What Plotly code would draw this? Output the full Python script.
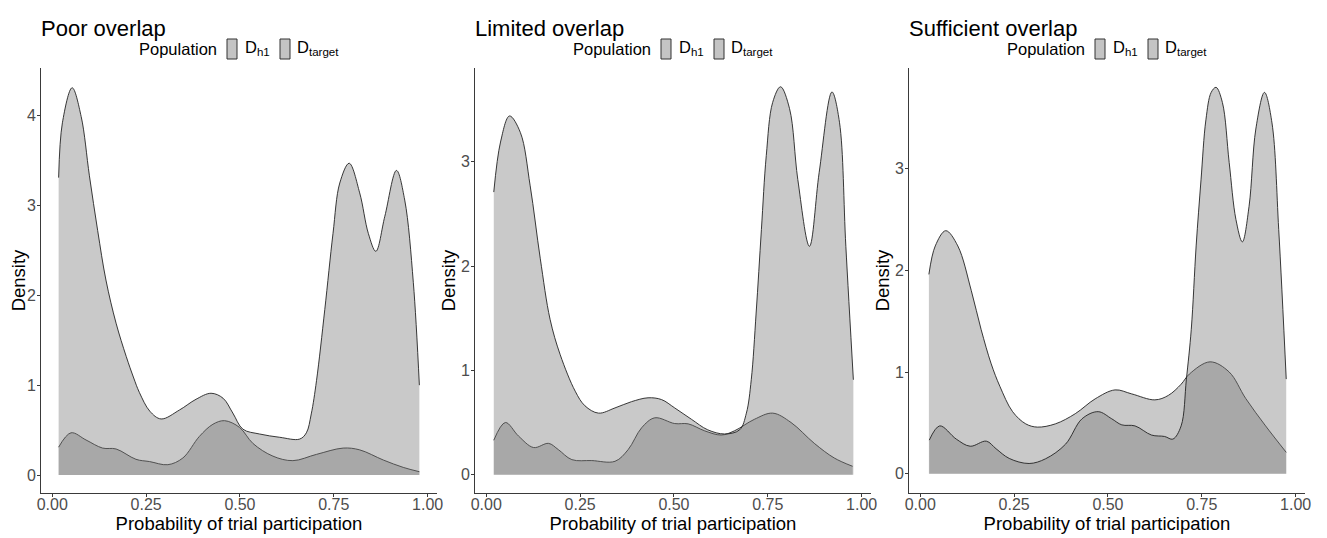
import plotly.graph_objects as go

# ---------------- data ----------------
panel_titles = ["Poor overlap", "Limited overlap", "Sufficient overlap"]
series_names = ["D<sub>h1</sub>", "D<sub>target</sub>"]

x_tick_vals = [0, 0.25, 0.5, 0.75, 1.0]
x_tick_labels = ["0.00", "0.25", "0.50", "0.75", "1.00"]
y_tick_vals = [[0, 1, 2, 3, 4], [0, 1, 2, 3], [0, 1, 2, 3]]

# Panel 1: Poor overlap
p1_h1_x = [0.017, 0.05, 0.09, 0.134, 0.17, 0.223, 0.259, 0.308, 0.348, 0.392, 0.428,
           0.459, 0.499, 0.535, 0.588, 0.641, 0.704, 0.775, 0.819, 0.882, 0.935, 0.978]
p1_h1_y = [0.31, 0.47, 0.39, 0.30, 0.29, 0.175, 0.15, 0.115, 0.19, 0.43, 0.565,
           0.605, 0.53, 0.35, 0.21, 0.16, 0.23, 0.30, 0.28, 0.167, 0.085, 0.037]
p1_tg_x = [0.017, 0.027, 0.053, 0.077, 0.099, 0.121, 0.143, 0.17, 0.197, 0.217, 0.232,
           0.26, 0.29, 0.339, 0.383, 0.423, 0.455, 0.481, 0.508, 0.552, 0.606, 0.659,
           0.677, 0.69, 0.704, 0.726, 0.748, 0.766, 0.791, 0.819, 0.842, 0.862, 0.886,
           0.917, 0.939, 0.962, 0.978]
p1_tg_y = [3.31, 3.92, 4.31, 3.99, 3.33, 2.72, 2.17, 1.69, 1.32, 1.08, 0.92,
           0.71, 0.624, 0.724, 0.843, 0.91, 0.855, 0.69, 0.51, 0.457, 0.42, 0.40,
           0.47, 0.68, 1.05, 1.84, 2.69, 3.25, 3.47, 3.14, 2.69, 2.49, 2.88,
           3.39, 3.06, 2.14, 1.00]

# Panel 2: Limited overlap
p2_h1_x = [0.02, 0.051, 0.086, 0.126, 0.166, 0.192, 0.228, 0.281, 0.343, 0.378, 0.414,
           0.449, 0.502, 0.538, 0.582, 0.626, 0.661, 0.714, 0.763, 0.812, 0.874, 0.927, 0.976]
p2_h1_y = [0.33, 0.50, 0.37, 0.26, 0.30, 0.24, 0.144, 0.135, 0.128, 0.24, 0.45,
           0.545, 0.49, 0.487, 0.42, 0.38, 0.42, 0.53, 0.59, 0.50, 0.30, 0.16, 0.08]
p2_tg_x = [0.02, 0.038, 0.062, 0.091, 0.117, 0.144, 0.17, 0.197, 0.237, 0.263,
           0.299, 0.343, 0.387, 0.431, 0.467, 0.502, 0.547, 0.59, 0.635, 0.675, 0.693,
           0.706, 0.719, 0.733, 0.746, 0.763, 0.784, 0.808, 0.83, 0.861, 0.887, 0.921,
           0.941, 0.958, 0.978]
p2_tg_y = [2.71, 3.19, 3.44, 3.28, 2.77, 2.07, 1.49, 1.15, 0.80, 0.66,
           0.59, 0.64, 0.70, 0.737, 0.72, 0.64, 0.53, 0.43, 0.39, 0.43, 0.59,
           0.91, 1.55, 2.35, 3.06, 3.57, 3.72, 3.51, 2.83, 2.19, 2.90, 3.67,
           3.38, 2.19, 0.91]

# Panel 3: Sufficient overlap
p3_h1_x = [0.023, 0.04, 0.068, 0.10, 0.136, 0.162, 0.189, 0.212, 0.246, 0.281, 0.312,
           0.36, 0.413, 0.466, 0.519, 0.563, 0.625, 0.661, 0.695, 0.717, 0.772, 0.823,
           0.867, 0.92, 0.975]
p3_h1_y = [1.96, 2.24, 2.39, 2.24, 1.80, 1.42, 1.08, 0.86, 0.61, 0.49, 0.458,
           0.49, 0.59, 0.736, 0.824, 0.785, 0.726, 0.77, 0.88, 0.98, 1.10, 1.00,
           0.74, 0.47, 0.21]
p3_tg_x = [0.024, 0.052, 0.096, 0.133, 0.176, 0.202, 0.237, 0.29, 0.334, 0.387, 0.431,
           0.474, 0.51, 0.537, 0.572, 0.616, 0.651, 0.673, 0.695, 0.709, 0.722, 0.735,
           0.748, 0.761, 0.775, 0.788, 0.805, 0.823, 0.841, 0.858, 0.876, 0.894, 0.917,
           0.937, 0.955, 0.975]
p3_tg_y = [0.33, 0.47, 0.34, 0.27, 0.32, 0.245, 0.15, 0.10, 0.147, 0.29, 0.54,
           0.61, 0.54, 0.48, 0.47, 0.38, 0.366, 0.34, 0.47, 0.93, 1.42, 2.24,
           2.89, 3.48, 3.75, 3.80, 3.65, 3.06, 2.50, 2.28, 2.63, 3.39, 3.75,
           3.45, 2.40, 0.93]

panels = [
    (p1_h1_x, p1_h1_y, p1_tg_x, p1_tg_y),
    (p2_h1_x, p2_h1_y, p2_tg_x, p2_tg_y),
    (p3_h1_x, p3_h1_y, p3_tg_x, p3_tg_y),
]
y_ranges = [[-0.2, 4.53], [-0.176, 3.9], [-0.19, 3.99]]
x_range = [-0.03, 1.025]

# ---------------- layout geometry ----------------
# The page body has an 8px margin, so the figure is drawn 8px in from the
# window's top-left corner; positions below are window pixels minus that.
OFF = 8
W, H = 1327 - OFF, 538 - OFF
panel_left = [41 - OFF, 475 - OFF, 909 - OFF]
panel_w = 396
plot_top, plot_bottom = 68 - OFF, 493 - OFF

FONT = "Liberation Sans, Arial, sans-serif"
FILL = "rgba(119,119,119,0.40)"
LINE = "#222222"

fig = go.Figure()
layout = dict(
    width=W, height=H, autosize=False,
    margin=dict(l=0, r=0, t=0, b=0),
    paper_bgcolor="white", plot_bgcolor="white",
    showlegend=False,
    font=dict(family=FONT, color="black"),
)

shapes = []
annotations = []

for i, (hx, hy, tx, ty) in enumerate(panels):
    ax = "" if i == 0 else str(i + 1)
    fig.add_trace(go.Scatter(
        x=hx, y=hy, mode="lines", name=series_names[0], fill="tozeroy",
        fillcolor=FILL, line=dict(color=LINE, width=0.9, shape="spline", smoothing=1.0),
        xaxis="x" + ax, yaxis="y" + ax, hoverinfo="x+y+name"))
    fig.add_trace(go.Scatter(
        x=tx, y=ty, mode="lines", name=series_names[1], fill="tozeroy",
        fillcolor=FILL, line=dict(color=LINE, width=0.9, shape="spline", smoothing=1.0),
        xaxis="x" + ax, yaxis="y" + ax, hoverinfo="x+y+name"))

    l = panel_left[i]
    xdom = [l / W, (l + panel_w) / W]
    ydom = [(H - plot_bottom) / H, (H - plot_top) / H]
    axis_common = dict(
        showline=True, linecolor="#3a3a3a", linewidth=1,
        ticks="outside", ticklen=3, tickwidth=1, tickcolor="#3a3a3a",
        tickfont=dict(size=16, color="#4d4d4d", family=FONT),
        showgrid=False, zeroline=False, automargin=False,
    )
    layout["xaxis" + ax] = dict(
        axis_common, domain=xdom, range=x_range, anchor="y" + ax,
        tickvals=x_tick_vals, ticktext=x_tick_labels, ticklabelstandoff=-6,
        title=dict(text="Probability of trial participation",
                   font=dict(size=18.5, family=FONT, color="black"), standoff=2),
    )
    layout["yaxis" + ax] = dict(
        axis_common, domain=ydom, range=y_ranges[i], anchor="x" + ax,
        tickvals=y_tick_vals[i], ticktext=[str(v) for v in y_tick_vals[i]],
        ticklabelstandoff=-2,
        title=dict(text="Density", font=dict(size=18.5, family=FONT, color="black"),
                   standoff=0),
    )

    # panel title
    annotations.append(dict(
        text=panel_titles[i], xref="paper", yref="paper",
        x=(l - 2) / W, y=1 - 6 / H, xanchor="left", yanchor="top", showarrow=False,
        font=dict(size=22, family=FONT, color="black")))

    # legend (ggplot-style keys above each panel)
    ly = 49 - OFF
    annotations.append(dict(
        text="Population", xref="paper", yref="paper",
        x=(l + 178) / W, y=1 - ly / H, xanchor="right", yanchor="middle",
        showarrow=False, font=dict(size=16.5, family=FONT, color="black")))
    for k, (kx, tx_off) in enumerate([(186, 202), (239, 254)]):
        shapes.append(dict(
            type="rect", xref="paper", yref="paper",
            x0=(l + kx) / W, x1=(l + kx + 10) / W,
            y0=1 - (ly + 10) / H, y1=1 - (ly - 10) / H,
            fillcolor="#c4c4c4", line=dict(color="#333333", width=1)))
        annotations.append(dict(
            text=series_names[k], xref="paper", yref="paper",
            x=(l + tx_off) / W, y=1 - (ly - 1) / H, xanchor="left", yanchor="middle",
            showarrow=False, font=dict(size=16.5, family=FONT, color="black")))

layout["shapes"] = shapes
layout["annotations"] = annotations
fig.update_layout(**layout)

fig.write_html("out.html")
